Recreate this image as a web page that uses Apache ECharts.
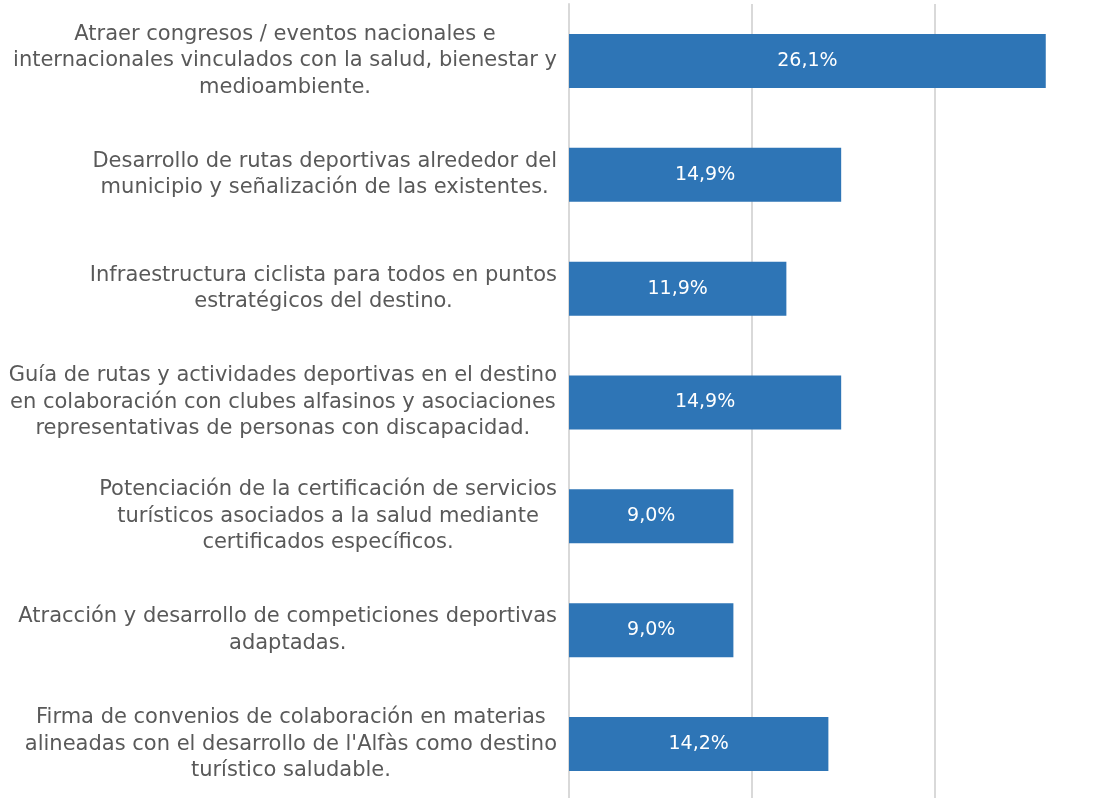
<!DOCTYPE html>
<html>
<head>
<meta charset="utf-8">
<script src="https://cdn.jsdelivr.net/npm/echarts@6/dist/echarts.min.js"></script>
<style>
  html, body { margin: 0; padding: 0; background: #ffffff; }
  #chart { width: 1109px; height: 798px; }
</style>
</head>
<body>
<div id="chart"></div>
<script>
// Actions, top to bottom, with their wrapped display lines
const categories = [
  'Atraer congresos / eventos nacionales e\ninternacionales vinculados con la salud, bienestar y\nmedioambiente.',
  'Desarrollo de rutas deportivas alrededor del\nmunicipio y señalización de las existentes.',
  'Infraestructura ciclista para todos en puntos\nestratégicos del destino.',
  'Guía de rutas y actividades deportivas en el destino\nen colaboración con clubes alfasinos y asociaciones\nrepresentativas de personas con discapacidad.',
  'Potenciación de la certificación de servicios\nturísticos asociados a la salud mediante\ncertificados específicos.',
  'Atracción y desarrollo de competiciones deportivas\nadaptadas.',
  'Firma de convenios de colaboración en materias\nalineadas con el desarrollo de l\'Alfàs como destino\nturístico saludable.'
];

// Share of responses (%)
const values = [26.1, 14.9, 11.9, 14.9, 9.0, 9.0, 14.2];

const chart = echarts.init(document.getElementById('chart'), null, { renderer: 'canvas' });

const FONT = '"DejaVu Sans", "Open Sans", sans-serif';

chart.setOption({
  animation: false,
  backgroundColor: '#ffffff',
  // the plot runs past the right edge of the page, so the 30 % line is cut off
  grid: { left: 569, top: 4, width: 548, height: 797, outerBoundsMode: 'none' },
  xAxis: {
    type: 'value',
    min: 0,
    max: 30,
    interval: 10,
    axisLabel: { show: false },
    axisTick: { show: false },
    axisLine: { show: false },
    splitLine: { show: true, lineStyle: { color: '#d9d9d9', width: 2 } }
  },
  yAxis: {
    type: 'category',
    inverse: true,
    data: categories,
    axisTick: { show: false },
    axisLine: { show: true, lineStyle: { color: '#d9d9d9', width: 2 } },
    axisLabel: {
      margin: 12,
      align: 'right',
      color: '#595959',
      fontFamily: FONT,
      fontSize: 21,
      lineHeight: 26.5,
      formatter: function (v) {
        return v.split('\n').map(function (l) { return '{c|' + l + '}'; }).join('\n');
      },
      rich: {
        c: {
          align: 'center',
          color: '#595959',
          fontFamily: FONT,
          fontSize: 21,
          lineHeight: 26.5
        }
      }
    }
  },
  series: [{
    type: 'bar',
    data: values,
    barWidth: 54,
    itemStyle: { color: '#2E75B6' },
    label: {
      show: true,
      position: 'inside',
      color: '#ffffff',
      fontFamily: FONT,
      fontSize: 19,
      formatter: function (p) {
        return p.value.toFixed(1).replace('.', ',') + '%';
      }
    }
  }]
});
</script>
</body>
</html>
